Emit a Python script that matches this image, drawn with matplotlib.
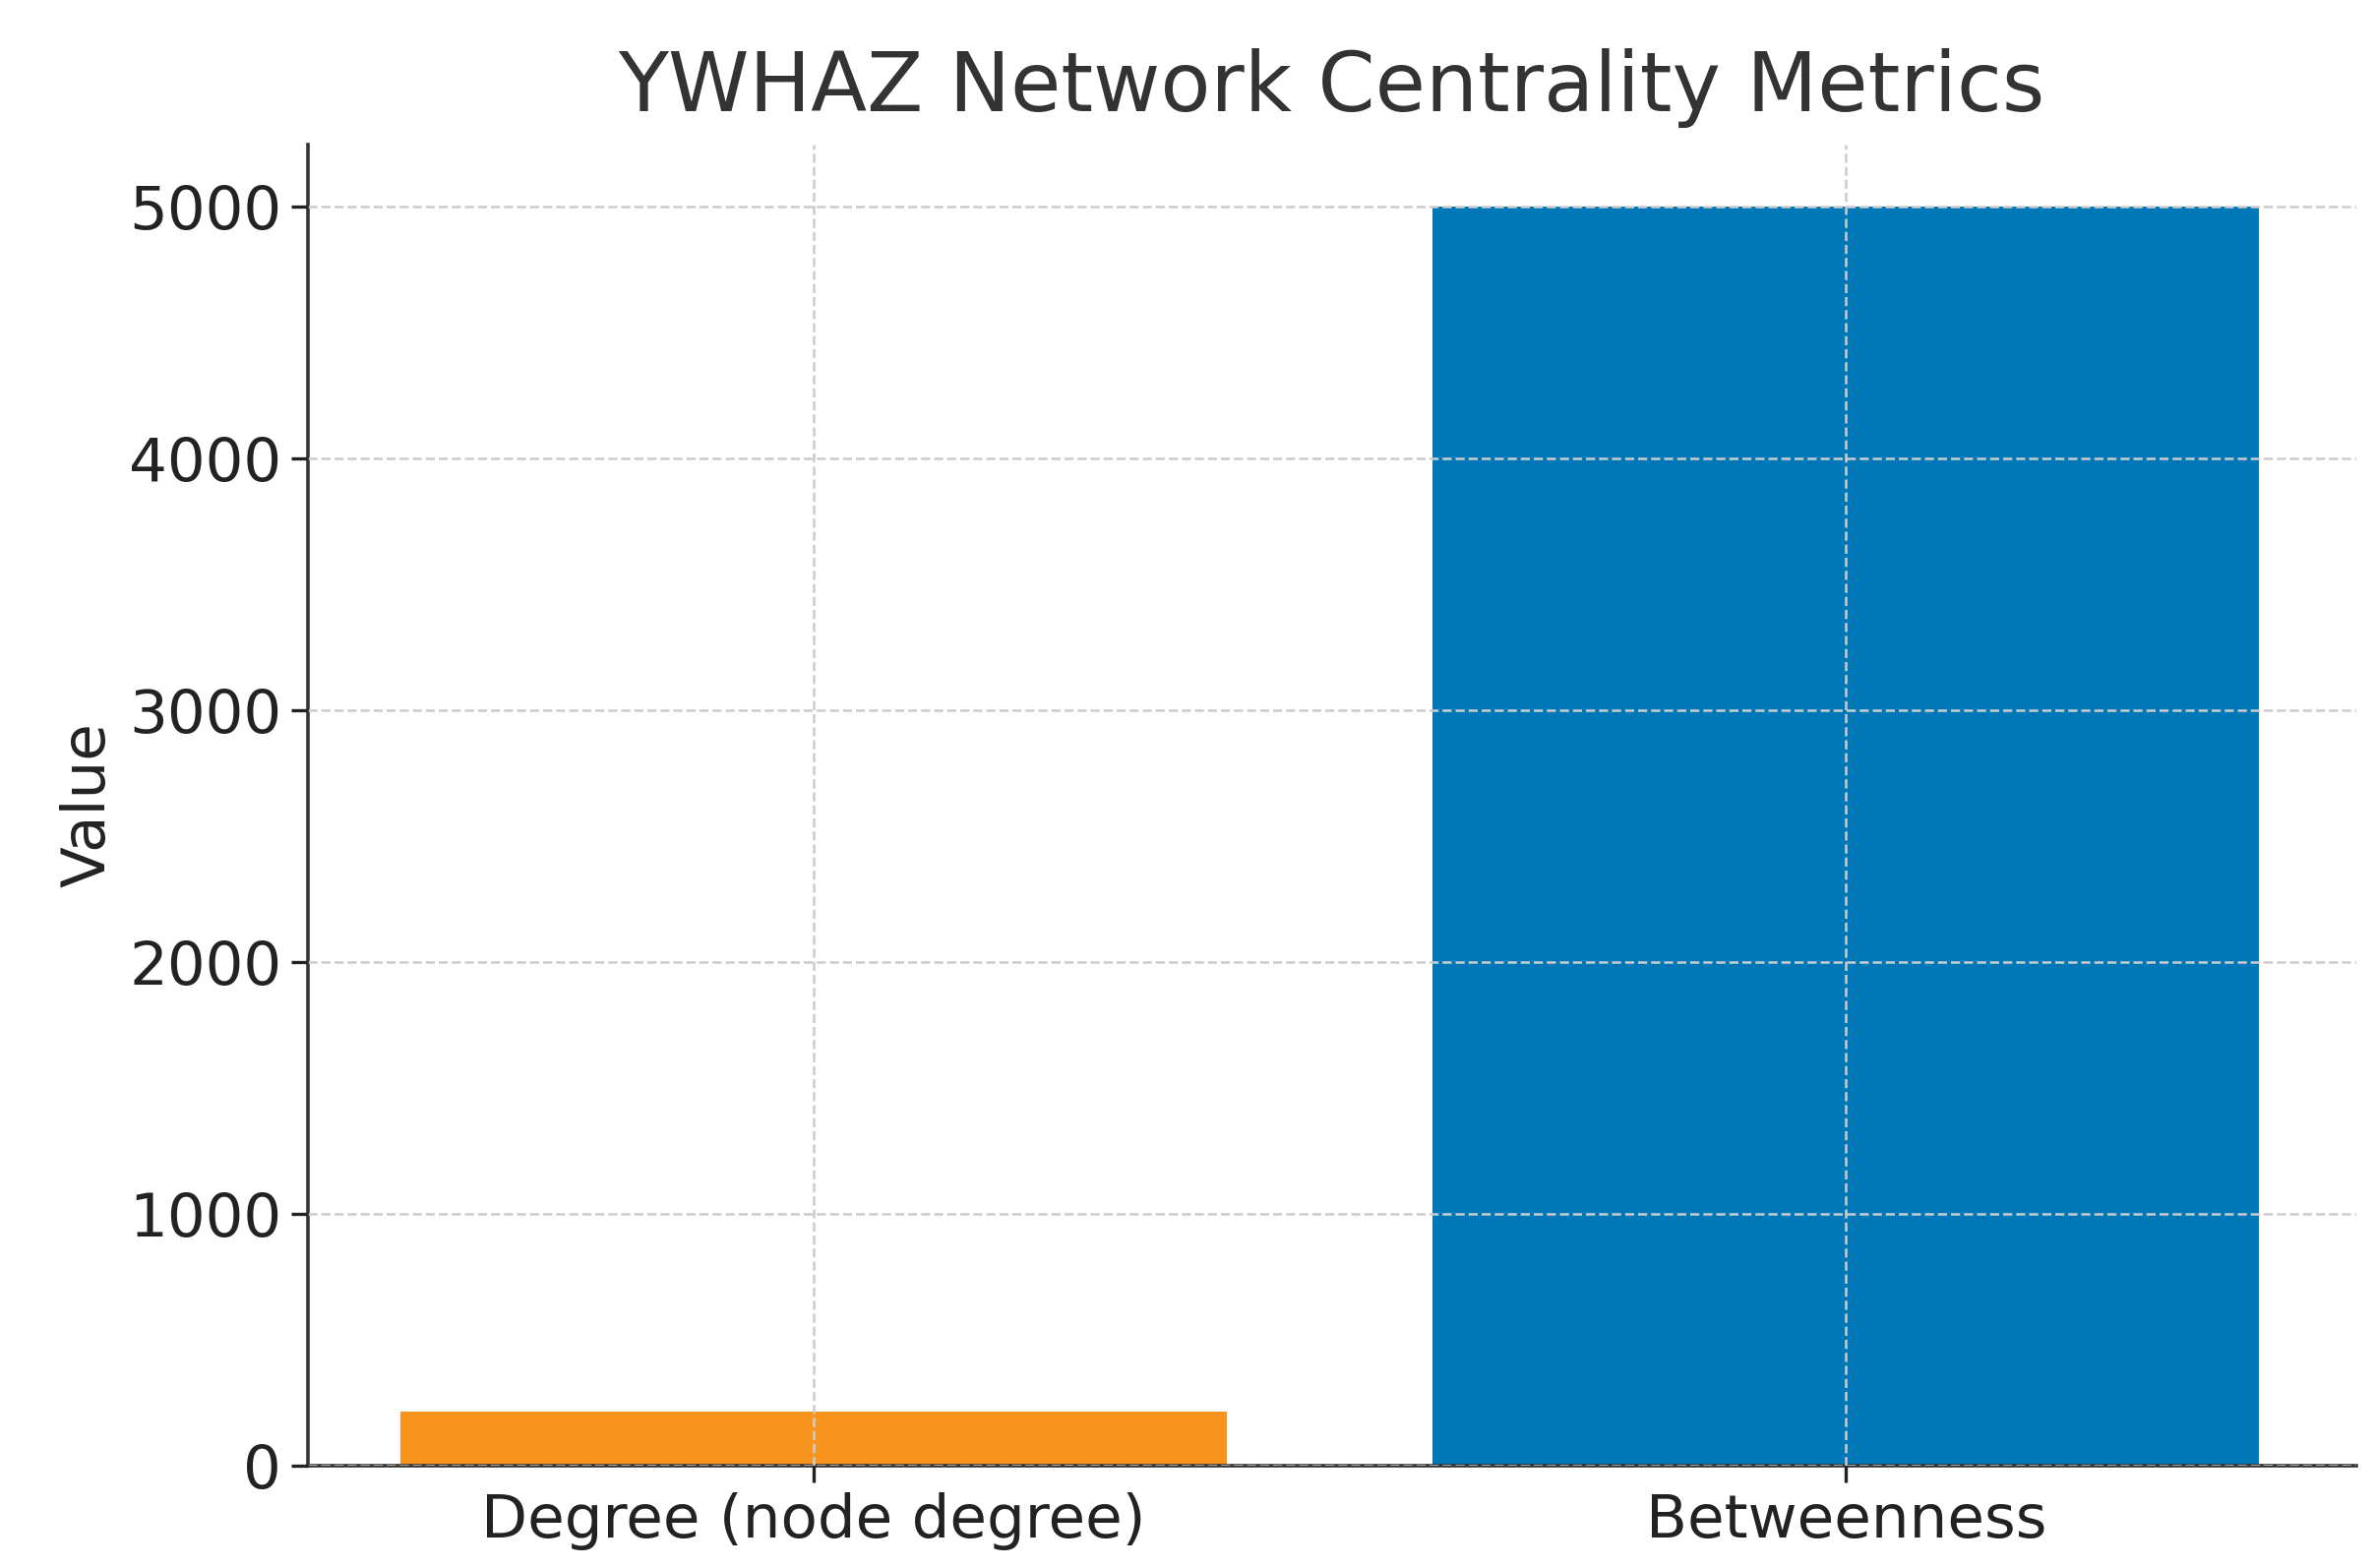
import matplotlib.pyplot as plt

# Werte
metrics = ["Degree (node degree)", "Betweenness"]
values = [218, 5000]
colors = ["#F7941D", "#0077B6"]

fig = plt.figure(figsize=(12.07, 7.97), dpi=200)
ax = fig.add_axes([0.1295, 0.065, 0.8625, 0.843])

ax.bar(metrics, values, width=0.8, color=colors, zorder=1)
ax.grid(True, linestyle="--", color="#cccccc", linewidth=0.9, zorder=3)
ax.set_axisbelow(False)

ax.set_xlim(-0.49, 1.494)
ax.set_ylim(0, 5247)
ax.set_yticks([0, 1000, 2000, 3000, 4000, 5000])

for side in ["top", "right"]:
    ax.spines[side].set_visible(False)
ax.spines["left"].set_color("#333333")
ax.spines["bottom"].set_color("#333333")
ax.spines["left"].set_linewidth(1.3)
ax.spines["bottom"].set_linewidth(1.3)

ax.tick_params(axis="both", labelsize=22, colors="#222222", length=6, width=1.2)
ax.set_ylabel("Value", fontsize=22, color="#222222")
ax.set_title("YWHAZ Network Centrality Metrics", fontsize=30, color="#333333", pad=12)

fig.savefig("out.png", dpi=200)
